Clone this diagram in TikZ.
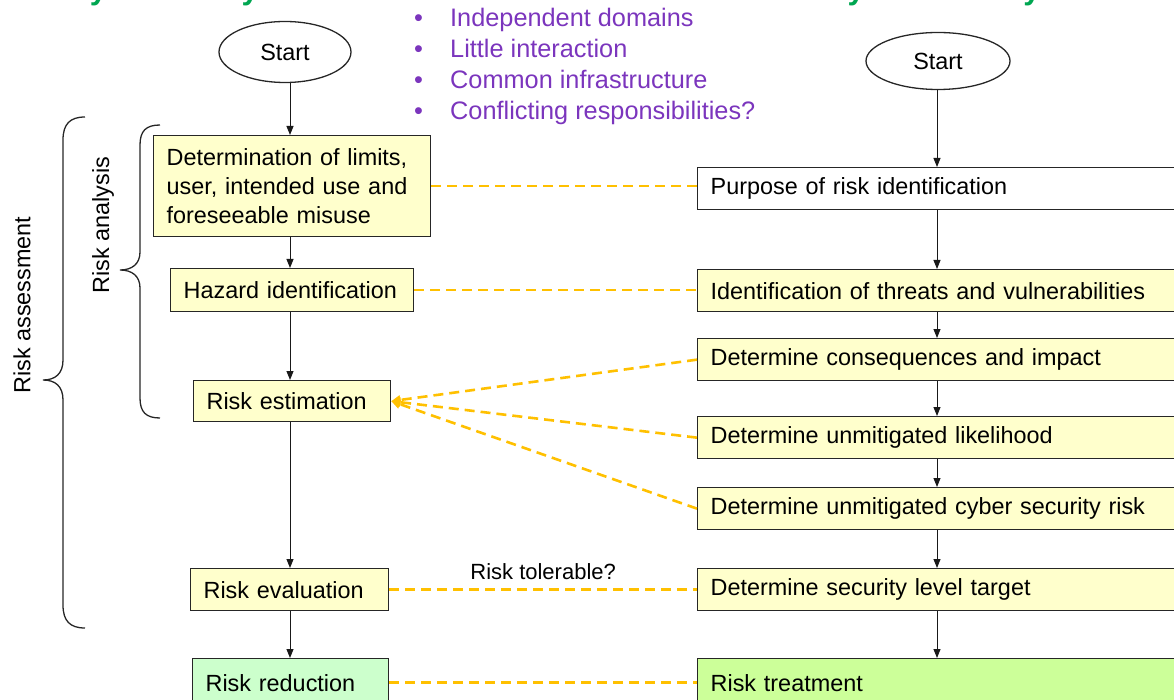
\documentclass[tikz,border=0pt]{standalone}
\usepackage{fontspec}
\setmainfont{Liberation Sans}
\usetikzlibrary{arrows.meta,shapes.geometric}

\definecolor{boxyellow}{HTML}{FFFFCC}
\definecolor{boxmint}{HTML}{CCFFCC}
\definecolor{boxlime}{HTML}{CCFF99}
\definecolor{linkgold}{HTML}{FFC000}
\definecolor{listpurple}{HTML}{7B35BD}
\definecolor{titlegreen}{HTML}{00A651}

\newcommand\bodyfont{\fontsize{23.4}{29}\selectfont}

\begin{document}
\begin{tikzpicture}[x=1pt,y=-1pt,
  stepbox/.style={draw=black!85, line width=1.3pt, fill=boxyellow, anchor=north west,
    align=left, inner xsep=13pt, inner ysep=0pt, font=\bodyfont},
  startnode/.style={draw=black!85, line width=1.3pt, ellipse, inner sep=0pt, font=\bodyfont},
  flow/.style={draw=black!90, line width=1pt, -{Triangle[width=7pt,length=9pt]}},
  link/.style={draw=linkgold, line width=2.6pt, dash pattern=on 10pt off 6pt},
  linktip/.style={-{Triangle[width=9pt,length=9pt,fill=linkgold]}},
  brace/.style={draw=black!85, line width=1.3pt},
  sidelabel/.style={rotate=90, font=\bodyfont},
  listitem/.style={anchor=base west, text=listpurple, font=\fontsize{25.3}{30}\selectfont, inner sep=0pt},
  title/.style={anchor=base west, text=titlegreen, font=\bfseries\fontsize{31}{36}\selectfont, inner sep=0pt}
]
\useasboundingbox (0,0) rectangle (1174,700);
\clip (0,0) rectangle (1174,700);

% column headings, running off the top edge
\node[title] (lefttitle) at (14,-0.5) {Safety risk analysis};
\node[title] (righttitle) at (825,-0.5) {Cyber security risk};

% purple notes
\foreach \i/\txt/\yy in {1/Independent domains/27, 2/Little interaction/58,
                        3/Common infrastructure/89, 4/Conflicting responsibilities?/120}{
  \node[listitem] (bul\i) at (414,\yy) {\textbullet};
  \node[listitem] (note\i) at (450,\yy) {\txt};
}

% left column: safety process
\node[startnode, minimum width=132pt, minimum height=61pt] (ls) at (285,52) {Start};
\node[stepbox, text width=251pt, minimum height=101pt] (det) at (153,135)
  {Determination of limits,\\ user, intended use and\\ foreseeable misuse};
\node[stepbox, text width=217pt, minimum height=43pt] (haz) at (170,268) {Hazard identification};
\node[stepbox, text width=171pt, minimum height=41pt] (est) at (193,380) {Risk estimation};
\node[stepbox, text width=172pt, minimum height=42pt] (eval) at (190,568) {Risk evaluation};
\node[stepbox, fill=boxmint, text width=170pt, minimum height=48pt] (red) at (192,658) {Risk reduction};

% right column: cyber security process
\node[startnode, minimum width=144pt, minimum height=57pt] (rs) at (938,61) {Start};
\node[stepbox, fill=white, text width=484pt, minimum height=42pt] (purp) at (697,167) {Purpose of risk identification};
\node[stepbox, text width=484pt, minimum height=42pt] (thr) at (697,269) {Identification of threats and vulnerabilities};
\node[stepbox, text width=484pt, minimum height=42pt] (cons) at (697,338) {Determine consequences and impact};
\node[stepbox, text width=484pt, minimum height=42pt] (lik) at (697,416) {Determine unmitigated likelihood};
\node[stepbox, text width=484pt, minimum height=42pt] (cyb) at (697,487) {Determine unmitigated cyber security risk};
\node[stepbox, text width=484pt, minimum height=42pt] (slt) at (697,568) {Determine security level target};
\node[stepbox, fill=boxlime, text width=484pt, minimum height=48pt] (treat) at (697,658) {Risk treatment};

% left flow
\coordinate (lx) at (290,0);
\draw[flow] (lx |- ls.south) -- (lx |- det.north);
\draw[flow] (lx |- det.south) -- (lx |- haz.north);
\draw[flow] (lx |- haz.south) -- (lx |- est.north);
\draw[flow] (lx |- est.south) -- (lx |- eval.north);
\draw[flow] (lx |- eval.south) -- (lx |- red.north);

% right flow
\coordinate (rx) at (937,0);
\draw[flow] (rx |- rs.south) -- (rx |- purp.north);
\draw[flow] (rx |- purp.south) -- (rx |- thr.north);
\draw[flow] (rx |- thr.south) -- (rx |- cons.north);
\draw[flow] (rx |- cons.south) -- (rx |- lik.north);
\draw[flow] (rx |- lik.south) -- (rx |- cyb.north);
\draw[flow] (rx |- cyb.south) -- (rx |- slt.north);
\draw[flow] (rx |- slt.south) -- (rx |- treat.north);

% correspondences between the two processes
\draw[link] (det.east) -- (det.east -| purp.west);
\draw[link] (haz.east) -- (haz.east -| thr.west);
\draw[link, linktip] (cons.west) -- (est.east);
\draw[link, linktip] (lik.west) -- (est.east);
\draw[link, linktip] (cyb.west) -- (est.east);
\draw[link] (eval.east) -- (eval.east -| slt.west)
  node[midway, above=5pt, text=black, font=\fontsize{22}{26}\selectfont] (tol) {Risk tolerable?};
\draw[link] (red.east) -- (red.east -| treat.west);

% braces grouping the steps
\draw[brace] (160,125) .. controls (146,125) and (140,131) .. (140,145) -- (140,252)
  .. controls (140,264) and (132,270) .. (120,270)
  .. controls (132,270) and (140,276) .. (140,288) -- (140,398)
  .. controls (140,412) and (146,418) .. (160,418);
\draw[brace] (85,117) .. controls (70,117) and (63,124) .. (63,140) -- (63,360)
  .. controls (63,374) and (55,380) .. (43,380)
  .. controls (55,380) and (63,386) .. (63,400) -- (63,605)
  .. controls (63,621) and (70,628) .. (85,628);
\node[sidelabel] (analysis) at (103,225) {Risk analysis};
\node[sidelabel] (assess) at (22,305) {Risk assessment};
\end{tikzpicture}
\end{document}
